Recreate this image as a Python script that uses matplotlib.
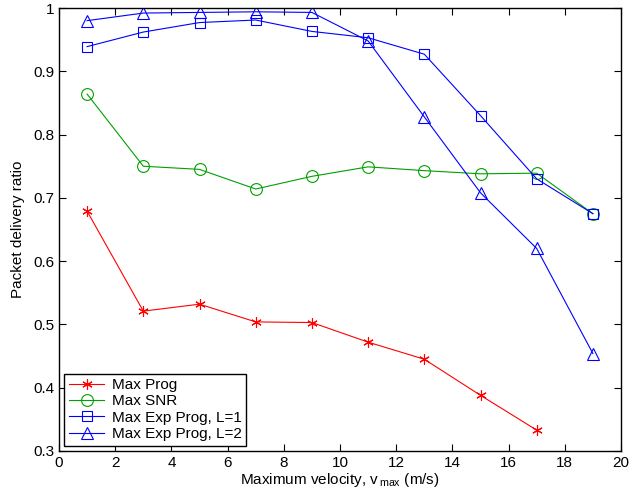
import matplotlib
matplotlib.use("Agg")
import matplotlib.pyplot as plt

plt.rcParams['font.family'] = ['Liberation Sans', 'DejaVu Sans']
plt.rcParams['mathtext.default'] = 'regular'

x = [1, 3, 5, 7, 9, 11, 13, 15, 17, 19]
max_prog = [0.679, 0.521, 0.532, 0.504, 0.503, 0.472, 0.445, 0.388, 0.333]
max_snr = [0.864, 0.750, 0.745, 0.714, 0.734, 0.749, 0.743, 0.738, 0.739, 0.675]
exp_l1 = [0.939, 0.962, 0.977, 0.981, 0.963, 0.953, 0.927, 0.830, 0.730, 0.675]
exp_l2 = [0.980, 0.992, 0.993, 0.994, 0.993, 0.948, 0.828, 0.708, 0.620, 0.454]

xticks = list(range(0, 21, 2))
yticks = [0.3, 0.4, 0.5, 0.6, 0.7, 0.8, 0.9, 1.0]
ytick_labels = ['0.3', '0.4', '0.5', '0.6', '0.7', '0.8', '0.9', '1']

fig = plt.figure(figsize=(6.43, 4.97), dpi=100)
ax = fig.add_axes([59/643, 46/497, 562/643, 443/497])

lw = 0.8
ax.plot(x[:len(max_prog)], max_prog, color='#ff0000', lw=lw, marker=(6, 2, 0),
        markersize=7.5, markeredgewidth=0.8, label='Max Prog')
ax.plot(x, max_snr, color='#00a000', lw=lw, marker='o', markersize=8.5,
        markerfacecolor='none', markeredgewidth=0.8, label='Max SNR')
ax.plot(x, exp_l1, color='#0000ff', lw=lw, marker='s', markersize=6.5,
        markerfacecolor='none', markeredgewidth=0.8, label='Max Exp Prog, L=1')
ax.plot(x, exp_l2, color='#0000ff', lw=lw, marker='^', markersize=9,
        markerfacecolor='none', markeredgewidth=0.8, label='Max Exp Prog, L=2')

ax.set_xlim(0, 20)
ax.set_ylim(0.3, 1.0)
ax.set_xticks(xticks)
ax.set_xticklabels([str(t) for t in xticks])
ax.set_yticks(yticks)
ax.set_yticklabels(ytick_labels)
ax.tick_params(direction='in', top=True, right=True, labelsize=11, length=5, width=0.8)
for s in ax.spines.values():
    s.set_linewidth(1.0)

ax.set_xlabel(r'Maximum velocity, v$_{\,max}$ (m/s)', fontsize=11, labelpad=1)
ax.set_ylabel('Packet delivery ratio', fontsize=11, labelpad=6)

leg = ax.legend(loc='lower left', fontsize=11, fancybox=False, framealpha=1,
                edgecolor='black', borderaxespad=0.35, handlelength=2.3,
                handletextpad=0.5, labelspacing=0.15, borderpad=0.3)
leg.get_frame().set_linewidth(1.0)

fig.savefig('out.png', dpi=100)
